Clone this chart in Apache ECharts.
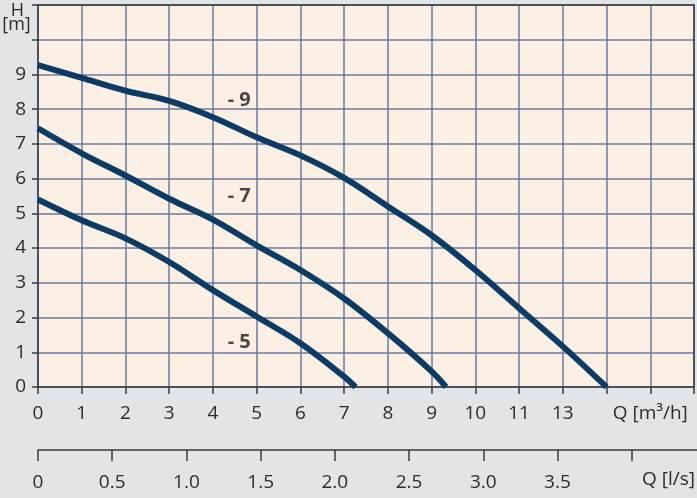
<!DOCTYPE html>
<html><head><meta charset="utf-8">
<script src="https://cdn.jsdelivr.net/npm/echarts@6/dist/echarts.min.js"></script>
<style>html,body{margin:0;padding:0;background:#e1e5e8}#c{width:697px;height:498px}</style>
</head><body><div id="c"></div>
<script>
// Flow Q [m3/h] and head H [m] for each pump curve
const q9 = [0, 1, 2, 3, 4, 5, 6, 7, 8, 9, 10, 11, 12, 13.0];
const h9 = [9.27, 8.9, 8.53, 8.24, 7.77, 7.19, 6.67, 6.02, 5.2, 4.37, 3.37, 2.27, 1.17, 0];
const q7 = [0, 1, 2, 3, 4, 5, 6, 7, 8, 9, 9.33];
const h7 = [7.45, 6.73, 6.09, 5.42, 4.82, 4.08, 3.37, 2.55, 1.55, 0.45, 0];
const q5 = [0, 1, 2, 3, 4, 5, 6, 7, 7.26];
const h5 = [5.4, 4.8, 4.28, 3.6, 2.79, 2.03, 1.26, 0.3, 0];
const curveNames = ['- 9', '- 7', '- 5'];
const curveLabelQ = [4.6, 4.6, 4.6];
const curveLabelH = [8.25, 5.5, 1.3];
// tick labels
const xTickLabels = ['0','1','2','3','4','5','6','7','8','9','10','11','13','','Q [m³/h]',''];
const yTickLabels = ['0','1','2','3','4','5','6','7','8','9','',''];
const lsTicks = [0, 0.5, 1.0, 1.5, 2.0, 2.5, 3.0, 3.5, 4.0];
const lsTickLabels = ['0','0.5','1.0','1.5','2.0','2.5','3.0','3.5',''];
const hAxisTitle = ['H', '[m]'];
const qLsTitle = 'Q [l/s]';

const FONT = 'Open Sans';
const FS = 19;
const TXT = '#2b2b2b';
const AX = '#3a3a3a';
const GRIDC = '#6b7aa0';
const CURVE = '#0c3b66';

function zip(a, b) { return a.map((v, i) => [v, b[i]]); }

const chart = echarts.init(document.getElementById('c'), null, {renderer: 'canvas'});
chart.setOption({
  backgroundColor: '#e1e5e8',
  animation: false,
  textStyle: {fontFamily: FONT},
  grid: [
    {left: 38, right: 1, top: 5, bottom: 111, show: true, backgroundColor: '#fcefe4', borderWidth: 0},
    {left: 38, right: 0, top: 449, height: 1, show: false}
  ],
  xAxis: [
    {gridIndex: 0, type: 'value', min: 0, max: 15, interval: 1,
     axisLine: {show: true, onZero: false, lineStyle: {color: AX, width: 1.5}},
     axisTick: {show: true, length: 7, lineStyle: {color: AX, width: 1.5}},
     axisLabel: {margin: 17, fontSize: FS, color: TXT, fontFamily: FONT,
       formatter: v => xTickLabels[Math.round(v)] ?? ''},
     splitLine: {show: true, lineStyle: {color: GRIDC, width: 1.5}}},
    {gridIndex: 0, type: 'value', position: 'top', min: 0, max: 15,
     axisLine: {show: true, onZero: false, lineStyle: {color: AX, width: 1.5}},
     axisTick: {show: false}, axisLabel: {show: false}, splitLine: {show: false}},
    {gridIndex: 1, type: 'value', position: 'bottom', min: 0, max: 4.44,
     axisLine: {show: true, onZero: false, lineStyle: {color: AX, width: 1.5}},
     axisTick: {show: true, length: 11, customValues: lsTicks, lineStyle: {color: AX, width: 1.5}},
     axisLabel: {margin: 23, fontSize: FS, color: TXT, fontFamily: FONT, customValues: lsTicks,
       formatter: v => { const i = lsTicks.findIndex(t => Math.abs(t - v) < 1e-6); return i >= 0 ? lsTickLabels[i] : ''; }},
     splitLine: {show: false}}
  ],
  yAxis: [
    {gridIndex: 0, type: 'value', min: 0, max: 11, interval: 1,
     axisLine: {show: true, onZero: false, lineStyle: {color: AX, width: 1.5}},
     axisTick: {show: true, length: 6, lineStyle: {color: AX, width: 1.5}},
     axisLabel: {margin: 12, fontSize: FS, color: TXT, fontFamily: FONT,
       formatter: v => yTickLabels[Math.round(v)] ?? ''},
     splitLine: {show: true, lineStyle: {color: GRIDC, width: 1.5}}},
    {gridIndex: 0, type: 'value', position: 'right', min: 0, max: 11,
     axisLine: {show: true, onZero: false, lineStyle: {color: AX, width: 1.5}},
     axisTick: {show: false}, axisLabel: {show: false}, splitLine: {show: false}},
    {gridIndex: 1, type: 'value', min: 0, max: 1, show: false}
  ],
  series: [
    {type: 'line', xAxisIndex: 0, yAxisIndex: 0, data: zip(q9, h9), smooth: 0.35, symbol: 'none',
     lineStyle: {color: CURVE, width: 6}},
    {type: 'line', xAxisIndex: 0, yAxisIndex: 0, data: zip(q7, h7), smooth: 0.35, symbol: 'none',
     lineStyle: {color: CURVE, width: 6}},
    {type: 'line', xAxisIndex: 0, yAxisIndex: 0, data: zip(q5, h5), smooth: 0.35, symbol: 'none',
     lineStyle: {color: CURVE, width: 6}},
    {type: 'scatter', xAxisIndex: 0, yAxisIndex: 0, symbolSize: 0, silent: true,
     data: curveNames.map((n, i) => ({name: n, value: [curveLabelQ[i], curveLabelH[i]]})),
     label: {show: true, position: 'inside', formatter: p => p.name, fontSize: FS + 1, fontWeight: 'bold',
       color: '#1a1a1a', fontFamily: FONT}}
  ],
  graphic: [
    {type: 'text', x: 17.5, y: 11, style: {text: hAxisTitle[0], font: FS - 1 + 'px "Open Sans"', fill: TXT,
      align: 'center', verticalAlign: 'middle'}},
    {type: 'text', x: 16.5, y: 24.5, style: {text: hAxisTitle[1], font: FS - 1 + 'px "Open Sans"', fill: TXT,
      align: 'center', verticalAlign: 'middle'}},
    {type: 'text', x: 695, y: 480, style: {text: qLsTitle, font: FS + 'px "Open Sans"', fill: TXT,
      align: 'right', verticalAlign: 'middle'}}
  ]
});
</script></body></html>
